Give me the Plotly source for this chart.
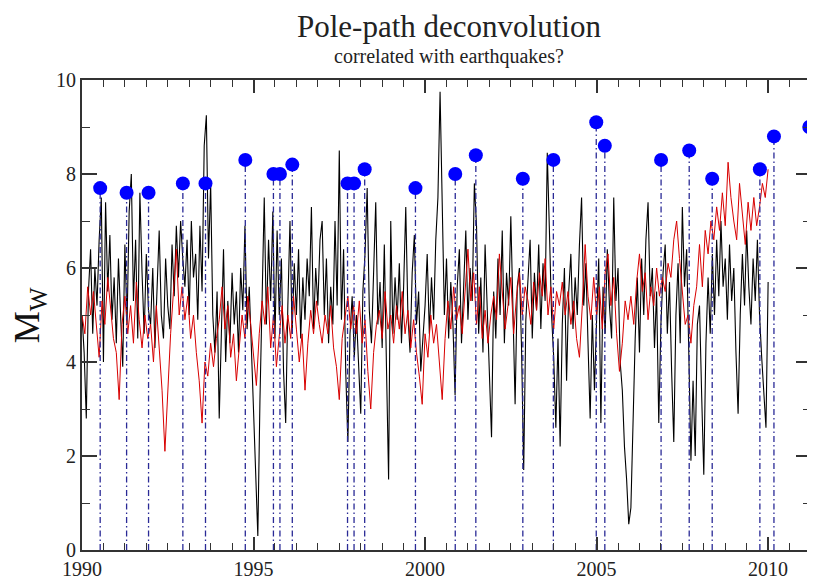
import numpy as np
import plotly.graph_objects as go

# ---------------- data ----------------
# black series: 16 samples per year from 1990.0 to 2010.0
black_start = 1990.0
black_step = 1.0 / 16
black_vals = [
    5.0, 4.2, 2.8, 5.5, 6.4, 4.6, 6.0, 5.2, 6.6, 7.5, 4.0, 7.4, 5.5, 6.7, 4.9, 5.8,   # 1990
    4.4, 6.2, 5.0, 3.9, 6.5, 4.8, 7.2, 8.0, 5.3, 6.6, 4.5, 7.6, 5.9, 4.6, 6.3, 5.1,   # 1991
    4.8, 6.0, 4.3, 5.6, 6.8, 5.0, 4.5, 6.2, 5.2, 4.7, 6.5, 5.4, 6.9, 5.8, 7.0, 6.2,   # 1992
    5.6, 6.6, 5.0, 7.0, 5.8, 6.3, 4.9, 6.9, 5.5, 8.6, 9.25, 6.2, 7.8, 5.0, 4.2, 5.5,  # 1993
    2.8, 4.6, 6.4, 4.0, 5.3, 4.4, 5.9, 4.8, 5.5, 4.2, 6.0, 5.1, 6.9, 4.7, 5.6, 4.3,   # 1994
    3.0, 1.4, 0.3, 3.2, 5.5, 7.5, 4.8, 6.6, 5.3, 7.2, 4.5, 6.8, 5.0, 6.2, 3.8, 2.7,   # 1995
    5.2, 7.0, 4.6, 6.1, 5.0, 6.4, 4.5, 5.8, 4.9, 6.2, 5.4, 7.3, 4.7, 6.0, 5.2, 6.6,   # 1996
    7.0, 5.0, 6.2, 4.4, 5.6, 4.8, 7.0, 5.2, 8.5, 4.9, 6.4, 3.8, 2.3, 4.6, 5.4, 4.1,   # 1997
    5.0, 3.9, 2.9, 5.5, 6.3, 7.7, 5.1, 4.4, 6.0, 7.4, 4.8, 5.7, 4.3, 6.5, 3.9, 1.5,   # 1998
    7.0, 4.6, 5.8, 4.9, 6.1, 4.4, 5.6, 7.3, 5.0, 4.2, 5.9, 6.7, 4.8, 5.5, 3.8, 4.5,   # 1999
    5.2, 6.3, 4.6, 5.8, 4.9, 6.6, 7.5, 9.75, 6.9, 5.0, 6.2, 4.5, 5.7, 4.8, 3.3, 5.6,  # 2000
    6.4, 4.4, 5.6, 6.8, 4.9, 6.0, 5.3, 7.8, 6.9, 4.6, 5.8, 4.2, 6.5, 5.0, 3.9, 2.4,   # 2001
    5.5, 4.5, 6.2, 5.0, 6.8, 4.4, 5.9, 5.2, 7.1, 4.8, 3.1, 5.6, 6.0, 4.3, 1.7, 4.9,   # 2002
    5.8, 6.6, 4.5, 5.9, 5.1, 6.5, 4.7, 6.1, 5.3, 8.45, 6.8, 5.0, 4.1, 2.6, 4.5, 2.2,  # 2003
    4.8, 6.0, 3.6, 5.5, 6.3, 4.7, 5.8, 5.0, 6.5, 7.5, 5.2, 6.1, 4.4, 2.8, 5.0, 3.4,   # 2004
    4.9, 6.2, 2.7, 5.6, 4.6, 6.4, 5.2, 4.5, 7.5, 5.3, 6.0, 4.0, 3.4, 2.2, 1.5, 0.55,  # 2005
    0.9, 3.0, 4.5, 5.8, 4.2, 6.2, 5.0, 6.6, 7.4, 5.4, 6.0, 4.3, 5.5, 2.7, 4.8, 5.9,   # 2006
    6.5, 4.6, 5.7, 3.8, 2.3, 5.0, 6.1, 4.4, 7.3, 5.6, 6.4, 4.2, 1.9, 3.6, 2.0, 4.8,   # 2007
    5.2, 3.3, 1.6, 4.4, 5.8, 4.6, 6.3, 5.0, 6.6, 5.4, 7.0, 5.6, 6.2, 4.9, 6.5, 5.3,   # 2008
    6.0, 4.2, 2.9, 5.0, 6.3, 5.2, 6.8, 5.6, 4.8, 6.2, 5.3, 6.6, 5.0, 4.1, 3.2, 2.6,   # 2009
    5.7,                                                                               # 2010.0
]

# red series: 12 samples per year from 1990.0 to 2010.0
red_start = 1990.0
red_step = 1.0 / 12
red_vals = [
    5.0, 4.6, 5.6, 5.0, 5.5, 4.7, 4.1, 5.3, 4.8, 5.8, 5.1, 4.5,   # 1990
    4.2, 3.2, 4.8, 5.4, 4.6, 5.2, 4.4, 5.7, 4.9, 4.3, 5.0, 4.5,   # 1991
    4.8, 4.0, 5.2, 4.3, 3.4, 2.1, 3.5, 4.6, 5.5, 6.4, 5.0, 5.6,   # 1992
    4.9, 5.4, 4.5, 5.0, 4.2, 3.6, 2.7, 4.0, 3.7, 4.4, 3.9, 4.5,   # 1993
    4.9, 5.6, 4.7, 5.2, 4.1, 4.6, 3.6, 4.4, 5.0, 4.5, 5.4, 4.8,   # 1994
    4.2, 3.5, 4.6, 5.3, 4.8, 5.6, 4.3, 5.0, 3.9, 4.6, 5.2, 4.4,   # 1995
    5.0, 4.5, 5.4, 4.7, 4.0, 4.6, 3.4, 4.4, 5.1, 4.6, 5.3, 4.8,   # 1996
    4.4, 5.0, 4.6, 5.2, 4.3, 3.9, 3.2, 4.5, 4.9, 5.4, 4.7, 5.2,   # 1997
    4.6, 5.3, 4.4, 4.9, 3.8, 3.0, 4.2, 4.8, 5.1, 4.5, 5.5, 4.7,   # 1998
    5.0, 4.4, 5.2, 4.7, 5.5, 4.6, 5.1, 4.3, 4.9, 4.2, 3.7, 3.1,   # 1999
    4.6, 4.1, 5.0, 4.4, 4.8, 3.9, 3.2, 4.5, 5.3, 4.7, 5.6, 4.9,   # 2000
    5.2, 4.6, 5.5, 6.4, 5.3, 5.9, 4.8, 5.6, 4.5, 5.1, 4.4, 5.0,   # 2001
    5.4, 4.9, 6.3, 5.5, 4.7, 5.2, 5.8, 4.6, 5.4, 5.9, 5.0, 5.6,   # 2002
    5.3, 4.8, 5.7, 5.1, 5.9, 5.4, 6.2, 5.0, 5.6, 4.7, 5.5, 5.2,   # 2003
    5.7, 5.0, 5.5, 4.8, 5.3, 4.5, 4.1, 5.2, 6.5, 5.4, 4.9, 5.8,   # 2004
    5.0, 5.6, 4.7, 5.9, 6.3, 5.2, 5.8, 4.6, 3.8, 4.4, 5.3, 4.9,   # 2005
    5.4, 4.8, 5.7, 6.3, 5.5, 5.9, 4.9, 5.6, 5.2, 6.0, 5.4, 5.8,   # 2006
    5.5, 6.1, 5.8, 6.6, 7.0, 6.2, 5.4, 4.8, 5.0, 4.4, 5.2, 5.6,   # 2007
    6.5, 5.6, 6.8, 6.3, 7.0, 6.6, 7.3, 6.8, 7.6, 6.9, 8.25, 7.5,  # 2008
    7.0, 6.6, 7.8, 7.2, 6.5, 7.4, 6.8, 7.5, 6.9, 7.3, 7.8, 7.5,   # 2009
    8.1,                                                          # 2010.0
]

# earthquakes: decimal year and magnitude Mw
quake_years = [1990.53, 1991.30, 1991.94, 1992.94, 1993.60, 1994.76, 1995.58,
               1995.77, 1996.13, 1997.74, 1997.93, 1998.24, 1999.72, 2000.88,
               2001.48, 2002.85, 2003.74, 2004.99, 2005.24, 2006.88, 2007.70,
               2008.37, 2009.76, 2010.17, 2011.20]
quake_mw = [7.7, 7.6, 7.6, 7.8, 7.8, 8.3, 8.0,
            8.0, 8.2, 7.8, 7.8, 8.1, 7.7, 8.0,
            8.4, 7.9, 8.3, 9.1, 8.6, 8.3, 8.5,
            7.9, 8.1, 8.8, 9.0]

x_ticks = [1990, 1995, 2000, 2005, 2010]
y_ticks = [0, 2, 4, 6, 8, 10]

# ---------------- figure ----------------
bx = black_start + black_step * np.arange(len(black_vals))
rx = red_start + red_step * np.arange(len(red_vals))

stem_x, stem_y = [], []
for yr, mw in zip(quake_years, quake_mw):
    stem_x += [yr, yr, None]
    stem_y += [0, mw, None]

fig = go.Figure()
fig.add_trace(go.Scatter(x=bx, y=black_vals, mode="lines",
                         line=dict(color="#000000", width=1.1)))
fig.add_trace(go.Scatter(x=rx, y=red_vals, mode="lines",
                         line=dict(color="#d80000", width=1)))
fig.add_trace(go.Scatter(x=stem_x, y=stem_y, mode="lines",
                         line=dict(color="#2a2a96", width=1.3, dash="6px,3px,1.5px,3px"),
                         cliponaxis=False))
fig.add_trace(go.Scatter(x=quake_years, y=quake_mw, mode="markers",
                         marker=dict(color="#0000ff", size=14, line=dict(width=0)),
                         cliponaxis=False))

FONT = "Liberation Serif, Times New Roman, serif"
axis_common = dict(
    showgrid=False, zeroline=False, showline=True, linewidth=2, linecolor="#333333",
    mirror="allticks", ticks="inside", tickcolor="#333333", tickwidth=1.5,
    tickfont=dict(family=FONT, size=20, color="#222222"),
)
fig.update_xaxes(range=[1990, 2011.25], tickvals=x_ticks, ticklen=13,
                 minor=dict(dtick=0.625, tick0=1990, ticks="inside", ticklen=7,
                            tickwidth=1.2, tickcolor="#333333"),
                 **axis_common)
fig.update_yaxes(range=[0, 10], tickvals=y_ticks, ticklen=15,
                 minor=dict(dtick=1, tick0=0, ticks="inside", ticklen=8,
                            tickwidth=1.2, tickcolor="#333333"),
                 **axis_common)

# the page body adds an 8px offset, so the figure is sized to fit the window
fig.update_layout(
    width=807, height=574,
    margin=dict(l=74, r=2, t=72, b=26),
    paper_bgcolor="white", plot_bgcolor="white",
    showlegend=False,
    annotations=[
        dict(text="Pole-path deconvolution", xref="paper", yref="paper",
             x=0.503, y=1.113, xanchor="center", yanchor="middle", showarrow=False,
             font=dict(family=FONT, size=31, color="#222222")),
        dict(text="correlated with earthquakes?", xref="paper", yref="paper",
             x=0.503, y=1.049, xanchor="center", yanchor="middle", showarrow=False,
             font=dict(family=FONT, size=20, color="#222222")),
        dict(text="M<sub>W</sub>", xref="paper", yref="paper",
             x=-0.0725, y=0.50, xanchor="center", yanchor="middle", showarrow=False,
             textangle=-90, font=dict(family=FONT, size=36, color="#111111")),
    ],
)

fig.write_html("out.html")
